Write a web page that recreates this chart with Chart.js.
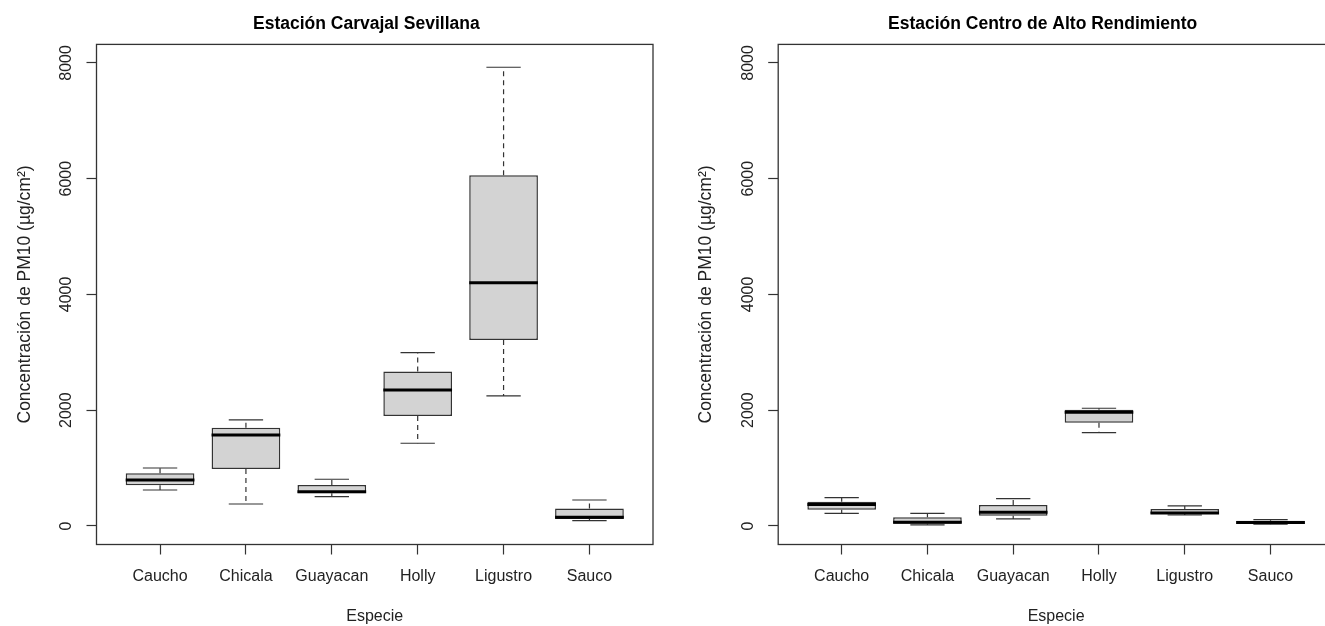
<!DOCTYPE html>
<html><head><meta charset="utf-8">
<script src="https://cdn.jsdelivr.net/npm/chart.js@4/dist/chart.umd.min.js"></script>
<style>
html,body{margin:0;padding:0;width:1325px;height:626px;overflow:hidden;background:#fff}
.p{position:absolute;top:0;height:626px}
</style></head><body>
<div class="p" style="left:0;width:690px"><canvas id="c1"></canvas></div>
<div class="p" style="left:690px;width:655px"><canvas id="c2"></canvas></div>
<script>
const categories = ["Caucho","Chicala","Guayacan","Holly","Ligustro","Sauco"];
const yTickValues = [0,2000,4000,6000,8000];
const yLimits = [-320, 8320];
const xTitle = "Especie";
const yTitle = "Concentración de PM10 (µg/cm²)";

// Estación Carvajal Sevillana
const carvajalTitle = "Estación Carvajal Sevillana";
const carvajalLow = [622, 380, 507, 1429, 2246, 92];
const carvajalQ1  = [703, 985, 565, 1900, 3214, 121];
const carvajalMed = [795, 1572, 593, 2350, 4204, 150];
const carvajalQ3  = [910, 1699, 708, 2667, 6060, 300];
const carvajalHigh= [1002, 1832, 807, 2995, 7925, 449];

// Estación Centro de Alto Rendimiento
const centroTitle = "Estación Centro de Alto Rendimiento";
const centroLow = [219, 20, 121, 1612, 190, 30];
const centroQ1  = [282, 40, 178, 1785, 213, 35];
const centroMed = [370, 65, 236, 1965, 225, 58];
const centroQ3  = [420, 150, 363, 2010, 294, 92];
const centroHigh= [489, 219, 472, 2034, 346, 109];

const FONT = "'Liberation Sans', Arial, sans-serif";
const TXT = '#222';
const LINE = '#333';

function makePanel(canvasId, cfg) {
  const extras = {
    id: 'boxExtras',
    afterDatasetsDraw(chart) {
      const {ctx, chartArea: a, scales: {x, y}} = chart;
      ctx.save();
      const half = x.getPixelForValue(1.4) - x.getPixelForValue(1);
      const capHalf = half / 2;
      for (let i = 0; i < categories.length; i++) {
        const cx = x.getPixelForValue(i + 1);
        const yl = y.getPixelForValue(cfg.low[i]);
        const y1 = y.getPixelForValue(cfg.q1[i]);
        const ym = y.getPixelForValue(cfg.med[i]);
        const y3 = y.getPixelForValue(cfg.q3[i]);
        const yh = y.getPixelForValue(cfg.high[i]);
        ctx.strokeStyle = LINE; ctx.lineWidth = 1.2;
        ctx.setLineDash([5, 4]);
        ctx.beginPath();
        ctx.moveTo(cx, y3); ctx.lineTo(cx, yh);
        ctx.moveTo(cx, y1); ctx.lineTo(cx, yl);
        ctx.stroke();
        ctx.setLineDash([]);
        ctx.beginPath();
        ctx.moveTo(cx - capHalf, yh); ctx.lineTo(cx + capHalf, yh);
        ctx.moveTo(cx - capHalf, yl); ctx.lineTo(cx + capHalf, yl);
        ctx.stroke();
        ctx.strokeStyle = '#000'; ctx.lineWidth = 3;
        ctx.beginPath();
        ctx.moveTo(cx - half, ym); ctx.lineTo(cx + half, ym);
        ctx.stroke();
      }
      // frame
      ctx.strokeStyle = LINE; ctx.lineWidth = 1.3;
      ctx.strokeRect(a.left, a.top, a.right - a.left, a.bottom - a.top);
      // rotated y tick labels
      ctx.fillStyle = TXT;
      ctx.font = `16px ${FONT}`;
      ctx.textAlign = 'center'; ctx.textBaseline = 'middle';
      yTickValues.forEach(v => {
        const py = y.getPixelForValue(v);
        ctx.save();
        ctx.translate(a.left - 30, py);
        ctx.rotate(-Math.PI / 2);
        ctx.fillText(String(v), 0, 0);
        ctx.restore();
      });
      // main title
      ctx.fillStyle = '#000';
      ctx.font = `bold 17.5px ${FONT}`;
      ctx.textAlign = 'left'; ctx.textBaseline = 'middle';
      ctx.fillText(cfg.title, cfg.titleX, 24);
      ctx.restore();
    }
  };
  return new Chart(document.getElementById(canvasId), {
    type: 'bar',
    data: {
      datasets: [{
        data: categories.map((c, i) => ({x: i + 1, y: [cfg.q1[i], cfg.q3[i]]})),
        backgroundColor: '#d3d3d3',
        borderColor: LINE,
        borderWidth: 1.5,
        borderSkipped: false,
        barPercentage: 0.8,
        categoryPercentage: 1.0,
        grouped: false
      }]
    },
    options: {
      responsive: true,
      maintainAspectRatio: false,
      animation: false,
      events: [],
      layout: {padding: {top: 44.4, right: cfg.padRight, bottom: 0, left: 0}},
      plugins: {legend: {display: false}, tooltip: {enabled: false}, title: {display: false}},
      scales: {
        x: {
          type: 'linear', min: 0.26, max: 6.74, offset: false,
          afterBuildTicks: s => { s.ticks = categories.map((c, i) => ({value: i + 1})); },
          afterFit: s => { s.height = 81.5; },
          border: {display: false},
          grid: {display: true, offset: false, drawOnChartArea: false, drawTicks: true, tickLength: 10, tickColor: LINE, tickWidth: 1.2},
          ticks: {autoSkip: false, maxRotation: 0, minRotation: 0, padding: 12, color: TXT,
                  font: {size: 16, family: FONT},
                  callback: (v) => categories[Math.round(v) - 1]},
          title: {display: true, text: xTitle, color: TXT, font: {size: 16, family: FONT}, padding: {top: 0, bottom: 0}}
        },
        y: {
          type: 'linear', min: yLimits[0], max: yLimits[1],
          afterBuildTicks: s => { s.ticks = yTickValues.map(v => ({value: v})); },
          afterFit: s => { s.width = cfg.yWidth; },
          border: {display: false},
          grid: {display: true, drawOnChartArea: false, drawTicks: true, tickLength: 10, tickColor: LINE, tickWidth: 1.2},
          ticks: {display: false},
          title: {display: true, text: yTitle, color: TXT, font: {size: 17.5, family: FONT}, padding: {top: cfg.yTitlePad, bottom: 0}}
        }
      }
    },
    plugins: [extras]
  });
}

makePanel('c1', {
  title: carvajalTitle, titleX: 253,
  low: carvajalLow, q1: carvajalQ1, med: carvajalMed, q3: carvajalQ3, high: carvajalHigh,
  yWidth: 96.5, padRight: 37, yTitlePad: 14.5
});
makePanel('c2', {
  title: centroTitle, titleX: 198,
  low: centroLow, q1: centroQ1, med: centroMed, q3: centroQ3, high: centroHigh,
  yWidth: 88.2, padRight: 11, yTitlePad: 6
});
</script>
</body></html>
